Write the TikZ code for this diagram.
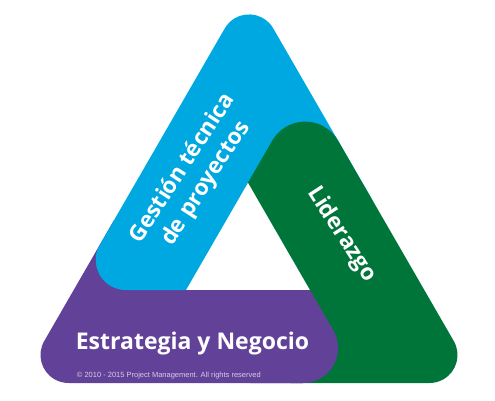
\documentclass[tikz,border=0pt]{standalone}
\usepackage{fontspec}
\setmainfont{Open Sans}
\newfontfamily\notefont{Liberation Sans}
\definecolor{barblue}{RGB}{0,168,225}
\definecolor{bargreen}{RGB}{0,117,58}
\definecolor{barpurple}{RGB}{98,65,152}
\definecolor{notegray}{RGB}{215,205,232}
\begin{document}
\begin{tikzpicture}[x=1pt,y=1pt,
    barlabel/.style={text=white,font=\fontsize{22.5}{28}\selectfont\bfseries,align=center}]
    \useasboundingbox (0,0) rectangle (495,400);
    % corners of the hole
    \coordinate (top) at (248,217.4);
    \coordinate (left) at (186,110);
    \coordinate (right) at (310,110);
    % bottom bar
    \fill[barpurple] (114.1,180) -- (44.25,59) arc[start angle=150,end angle=270,radius=28]
        -- (303.1,17) arc[start angle=-90,end angle=30,radius=35] -- (right) -- (left) -- cycle;
    % left bar
    \fill[barblue] (372.3,200) -- (273.25,371.6) arc[start angle=30,end angle=150,radius=28]
        -- (99.7,155) arc[start angle=150,end angle=270,radius=30] -- (left) -- (top) -- cycle;
    % right bar
    \fill[bargreen] (top) -- (272.25,259.4) arc[start angle=150,end angle=30,radius=38]
        -- (453.75,59) arc[start angle=30,end angle=-90,radius=28] -- (290,17) -- (right) -- cycle;
    % end of bottom bar goes over the right bar
    \begin{scope}
        \clip (250,0) rectangle (495,110);
        \fill[barpurple] (200,17) -- (303.1,17) arc[start angle=-90,end angle=30,radius=35]
            -- (right) -- (200,110) -- cycle;
    \end{scope}
    \node[barlabel, anchor=base, font=\fontsize{23}{28}\selectfont\bfseries] (strategy) at (192.5,51) {Estrategia y Negocio};
    \node[barlabel, rotate=57] (technical) at (194.5,224) {Gestión técnica\\de proyectos};
    \node[barlabel, rotate=-57] (leadership) at (341.5,165.5) {Liderazgo};
    \node[anchor=base west, inner sep=0, text=notegray, font=\notefont\fontsize{7.5}{9}\selectfont]
        (note) at (76.7,23) {© 2010 - 2015 Project Management. All rights reserved};
\end{tikzpicture}
\end{document}
